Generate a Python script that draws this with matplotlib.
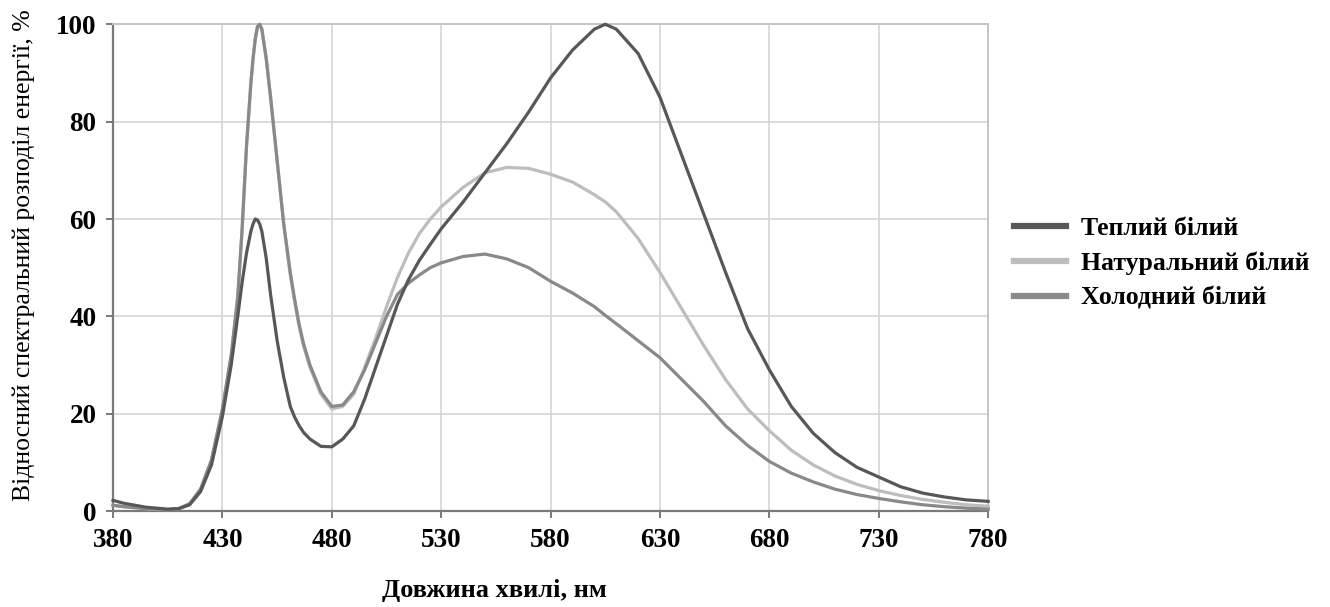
import matplotlib
matplotlib.use("Agg")
import matplotlib.pyplot as plt

plt.rcParams['font.family'] = ['Liberation Serif', 'DejaVu Serif']

# wavelength, nm
wl = [380, 385, 390, 395, 400, 405, 410, 415, 420, 425, 430,
      434, 437, 439, 441, 443, 444, 445, 446, 447, 448,
      450, 452, 455, 458, 461, 463, 465, 467, 470, 475, 480,
      485, 490, 495, 500, 505, 510, 515,
      520, 525, 530, 540, 550, 560, 570, 580, 590, 600,
      605, 610,
      620, 630, 640, 650, 660, 670, 680, 690, 700,
      710, 720, 730, 740, 750, 760, 770, 780]

warm = [2.2, 1.6, 1.2, 0.8, 0.6, 0.4, 0.5, 1.3, 4.0, 9.5, 19.5,
        30, 40, 47, 53, 57.5, 59, 60, 59.8, 59, 57.5,
        52, 44.5, 35, 27.5, 21.5, 19.3, 17.6, 16.2, 14.8, 13.3, 13.2,
        14.8, 17.5, 23, 29.5, 36, 42.5, 47.5,
        51.5, 54.8, 58, 63.5, 69.5, 75.5, 82, 89, 94.7, 99,
        100, 99,
        94, 85, 73, 61, 49, 37.5, 29, 21.5, 16,
        12, 9, 7, 5, 3.7, 2.9, 2.3, 2.0]

natural = [1.2, 0.9, 0.7, 0.5, 0.4, 0.3, 0.5, 1.5, 4.5, 10.5, 21,
           32, 44, 58, 75, 88, 93, 97, 99.5, 100, 99,
           93, 85, 72, 59, 48.5, 43, 38, 34, 29.5, 24, 21,
           21.5, 24, 29.5, 35.5, 42, 48, 53,
           57, 60, 62.5, 66.5, 69.5, 70.6, 70.4, 69.2, 67.6, 65,
           63.5, 61.5,
           56, 49, 41.5, 34, 27, 21, 16.5, 12.5, 9.5,
           7.2, 5.5, 4.2, 3.2, 2.4, 1.8, 1.3, 1.0]

cold = [1.2, 0.9, 0.7, 0.5, 0.4, 0.3, 0.5, 1.5, 4.5, 10.5, 21,
        32, 44, 58, 75, 88, 93, 97, 99.5, 100, 99,
        93, 85, 72, 59, 49, 43.5, 38.5, 34.5, 30, 24.5, 21.5,
        21.8, 24.5, 29, 34.5, 40, 44.5, 46.8,
        48.5, 50, 51, 52.3, 52.8, 51.8, 50, 47.2, 44.8, 42,
        40.2, 38.5,
        35, 31.5, 27, 22.5, 17.5, 13.5, 10.2, 7.8, 6,
        4.5, 3.4, 2.6, 1.9, 1.3, 0.9, 0.6, 0.4]

labels = ['Теплий білий', 'Натуральний білий', 'Холодний білий']
colors = ['#575757', '#bdbdbd', '#898989']

fig = plt.figure(figsize=(13.3, 6.07), dpi=100)
ax = fig.add_axes([0.085, 0.158, 0.658, 0.802])

ax.plot(wl, natural, color=colors[1], lw=2.3, label=labels[1], zorder=3, clip_on=False)
ax.plot(wl, cold, color=colors[2], lw=2.3, label=labels[2], zorder=4, clip_on=False)
ax.plot(wl, warm, color=colors[0], lw=2.3, label=labels[0], zorder=5, clip_on=False)

ax.set_xlim(380, 780)
ax.set_ylim(0, 100)
ax.set_xticks(range(380, 781, 50))
ax.set_yticks(range(0, 101, 20))
ax.grid(True, color='#d3d4d8', lw=1.2)
ax.set_axisbelow(True)

for s in ['left', 'bottom']:
    ax.spines[s].set_color('#7a7a7a')
    ax.spines[s].set_linewidth(1.6)
for s in ['top', 'right']:
    ax.spines[s].set_color('#c4c5c9')
    ax.spines[s].set_linewidth(1.4)

ax.tick_params(axis='both', length=5, width=1.4, color='#7a7a7a',
               labelsize=19.5, pad=7)
for t in ax.get_xticklabels() + ax.get_yticklabels():
    t.set_fontweight('bold')

fig.text(0.018, 0.58, 'Відносний спектральний розподіл енергії, %',
         rotation=90, ha='center', va='center', fontsize=18.5)
fig.text(0.372, 0.027, 'Довжина хвилі, нм', ha='center', va='center',
         fontsize=19, fontweight='bold')

h, l = ax.get_legend_handles_labels()
order = [2, 0, 1]
leg = fig.legend([h[i] for i in order], [l[i] for i in order],
                 loc='center left', bbox_to_anchor=(0.753, 0.566),
                 frameon=False, prop={'weight': 'bold', 'size': 18.5},
                 handlelength=2.0, handletextpad=0.6, labelspacing=0.45,
                 borderpad=0)
for ln in leg.get_lines():
    ln.set_linewidth(4.5)

fig.savefig('out.png', dpi=100)
